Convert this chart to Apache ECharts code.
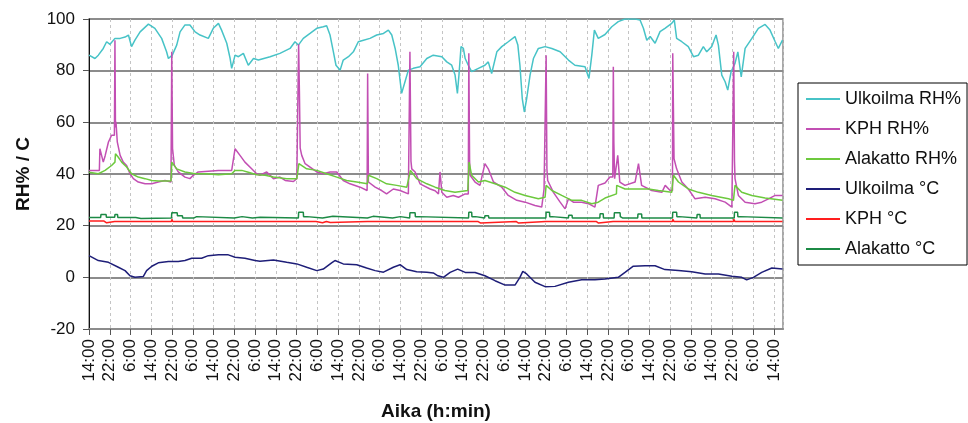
<!DOCTYPE html>
<html>
<head>
<meta charset="utf-8">
<script src="https://cdn.jsdelivr.net/npm/echarts@6/dist/echarts.min.js"></script>
<style>
html,body{margin:0;padding:0;background:#fff;}
#chart{width:968px;height:423px;}
</style>
</head>
<body>
<div id="chart"></div>
<script>
// Series names
const seriesNames = ['Ulkoilma RH%', 'KPH RH%', 'Alakatto RH%', 'Ulkoilma °C', 'KPH °C', 'Alakatto °C'];
// Tick labels (hour of day, repeating every 8 h starting 14:00)
const tickHours = [14, 22, 6];

// Ulkoilma RH% : time (h from start) and value
const ulkRhT = [0,2.3,3.6,5.5,6.8,8.1,10.0,12.0,13.9,15.2,16.4,17.7,19.7,22.9,25.4,28.0,29.9,30.6,32.1,33.8,35.1,37.0,38.9,40.9,42.8,46.0,47.9,49.9,51.1,53.1,54.4,55.0,56.3,57.6,59.5,61.4,63.4,65.3,
  69.8,73.6,77.5,79.4,80.7,82.6,85.2,87.8,90.3,91.6,92.9,94.2,95.2,96.8,98.0,100.0,101.9,103.8,105.8,108.3,110.9,113.5,115.4,116.7,118.0,119.2,120.5,121.8,123.1,125.0,127.6,130.2,132.7,
  136.0,137.9,139.8,141.1,142.0,142.6,143.4,144.3,145.0,146.2,147.5,150.1,152.6,153.9,155.2,157.2,159.1,161.6,164.2,165.3,166.1,167.0,167.8,168.7,170.0,171.3,173.2,175.8,178.4,181.6,184.8,187.3,191.2,192.7,193.8,194.8,196.3,198.9,
  201.5,204.0,206.6,210.5,212.4,213.7,215.0,216.3,218.2,220.1,222.0,224.6,225.6,226.5,228.5,231.0,233.0,234.9,236.8,238.1,240.0,241.7,242.6,243.9,245.2,246.2,247.5,249.0,250.1,251.4,252.9,255.5,258.0,260.6,262.5,264.5,265.7,267.3];
const ulkRhV = [86.0,84.7,86.0,88.6,91.2,90.2,92.5,92.5,93.0,93.8,89.3,91.8,95.0,98.0,96.4,92.5,87.3,84.7,86.0,89.9,95.0,97.7,97.7,95.0,93.8,92.5,96.4,98.3,95.7,90.6,84.7,80.9,86.0,85.4,86.7,82.1,84.7,84.1,
  85.4,86.7,88.6,91.2,89.9,92.5,94.4,96.4,97.0,97.4,93.8,87.3,82.1,80.2,84.1,85.4,87.3,91.2,91.8,92.5,93.8,94.4,95.7,93.8,88.6,82.1,71.2,75.7,80.2,80.9,81.5,84.7,86.0,
  85.4,83.4,82.1,78.3,71.2,78.3,89.3,88.6,84.7,82.1,79.6,80.9,82.1,83.4,78.9,87.3,89.3,91.2,93.2,89.9,82.1,69.2,64.0,69.2,78.3,84.7,88.6,89.3,88.6,87.3,84.1,82.1,81.5,77.0,86.0,95.7,92.5,94.0,
  97.0,99.0,100,100,99.6,96.4,91.8,93.2,90.6,95.1,96.4,98.3,99.6,92.5,91.2,89.3,85.4,86.0,89.3,87.3,89.3,93.8,89.9,78.3,75.7,72.5,79.6,82.8,87.3,77.6,88.6,92.5,96.4,97.9,95.7,91.2,88.6,91.8];

// KPH RH%
const kphRhT = [0,4.0,4.2,4.9,5.5,6.2,7.5,8.7,9.8,10.0,10.2,10.4,10.9,12.0,13.2,14.5,15.8,17.1,19.0,21.6,24.2,26.7,29.3,31.6,31.9,32.2,32.9,34.4,37.0,38.9,40.2,42.1,44.7,49.9,55.0,56.3,58.2,60.1,62.7,64.6,
  65.9,68.5,71.1,73.6,75.6,78.8,80.1,80.7,80.8,81.1,81.4,82.0,83.3,85.2,87.8,90.3,92.9,95.5,98.0,100.6,104.5,107.2,107.4,107.7,110.3,112.8,114.7,117.3,119.9,123.1,123.6,123.7,124.1,124.4,125.7,127.6,131.5,
  133.4,134.7,135.3,136.0,137.9,140.4,142.4,145.0,146.2,146.4,146.7,146.9,148.8,150.7,152.6,153.9,155.9,159.1,161.6,164.9,168.1,171.9,174.5,175.4,176.1,176.2,176.5,176.8,179.0,181.6,183.5,184.8,186.7,189.9,192.5,195.0,196.3,198.9,
  200.8,201.9,202.1,202.3,202.6,203.8,204.6,206.6,210.5,211.8,213.0,216.9,220.8,222.1,224.0,224.9,225.0,225.5,226.5,228.5,231.0,233.6,237.5,241.3,245.2,247.8,248.4,248.5,248.8,249.0,250.3,252.9,256.7,259.3,261.9,264.5,267.3];
const kphRhV = [41.4,41.4,49.8,47.0,44.6,47.0,52.4,55.0,55.0,91.8,58.0,60.2,52.4,47.2,44.6,43.3,40.1,38.2,36.9,36.2,36.2,36.9,37.5,36.9,87.3,49.8,43.3,40.8,38.8,38.2,39.5,40.8,41.0,41.4,41.4,49.8,47.2,44.6,42.0,40.1,
  39.5,40.8,38.2,38.8,37.5,37.1,38.2,38.2,90.2,72.0,50.0,47.2,44.0,42.7,40.8,40.1,40.8,40.8,37.5,36.2,34.9,33.6,78.9,36.9,34.9,33.6,32.3,34.2,33.6,32.3,32.3,87.3,45.0,42.0,40.8,36.2,34.2,
  33.5,32.3,40.8,32.9,31.0,31.7,31.0,32.3,32.3,86.7,45.0,39.5,36.9,35.6,44.0,42.0,36.9,34.9,31.7,29.8,29.1,27.8,27.2,34.2,34.2,86.0,42.0,37.5,32.9,29.1,26.5,30.4,29.1,29.1,28.5,27.2,35.6,36.5,
  38.8,38.8,81.5,52.4,38.2,47.2,36.9,35.6,36.9,44.0,35.6,33.6,32.9,35.6,33.6,33.6,86.7,45.9,42.0,36.9,34.2,30.4,31.0,30.4,29.1,27.2,27.2,87.3,45.0,38.2,31.7,29.1,28.5,29.1,30.4,31.7,31.7];

// Alakatto RH%
const alaRhT = [0,3.6,6.2,8.7,10.0,10.2,11.3,12.6,14.5,16.4,19.0,21.6,24.2,26.7,31.6,31.9,33.8,37.0,40.9,44.7,49.9,55.0,56.3,58.9,61.4,64.6,67.9,
  71.1,76.2,80.1,80.9,83.9,87.8,91.6,95.5,99.3,103.2,107.3,107.7,110.9,114.7,118.6,122.5,123.9,126.3,130.2,
  133.4,137.2,141.1,146.0,146.5,147.5,150.1,152.6,156.5,160.4,164.2,168.1,173.2,175.8,176.2,178.4,182.2,186.1,189.9,193.8,196.3,198.9,
  203.3,203.4,206.6,211.8,215.6,219.5,224.6,225.3,227.2,231.0,234.9,240.0,246.5,248.4,249.0,251.6,255.5,260.6,267.3];
const alaRhV = [40.7,40.1,41.4,43.3,44.6,47.8,46.5,44.6,42.7,40.1,38.8,38.2,37.5,37.3,37.3,44.6,42.0,40.8,40.1,40.1,39.7,40.1,41.4,41.4,40.7,39.7,39.5,
  38.8,38.2,38.2,44.0,42.0,41.4,40.1,38.8,37.5,36.9,36.2,39.5,38.2,36.2,35.6,34.9,41.4,38.2,36.2,
  34.9,33.6,32.9,33.6,44.6,39.5,36.9,37.5,36.2,34.9,32.9,31.7,30.4,31.0,35.6,33.6,31.7,29.8,29.8,28.5,29.1,30.7,
  32.3,35.6,34.2,34.2,34.2,33.6,32.9,39.5,36.9,34.2,32.9,31.7,30.4,29.8,35.6,32.9,31.7,30.7,29.8];

// Ulkoilma °C
const ulkCT = [0,3.6,7.5,11.3,13.9,15.8,17.7,20.9,22.2,24.2,26.7,30.6,34.4,37.0,39.6,43.4,46.0,49.9,53.7,56.3,60.1,64.0,
  65.9,71.1,76.2,80.1,83.9,87.8,90.3,93.5,94.8,98.0,103.2,107.0,110.3,113.5,117.3,119.9,122.5,126.3,130.2,132.7,
  134.5,136.6,139.2,142.1,145.0,148.8,152.6,156.5,160.4,164.2,166.1,167.2,168.7,171.9,175.8,179.6,184.8,189.9,195.0,198.9,
  204.0,206.6,209.8,214.3,218.2,222.0,227.2,232.3,237.5,242.6,247.8,251.6,253.5,256.1,259.3,263.2,267.3];
const ulkCV = [8.4,6.5,5.8,3.9,2.6,0.6,0.0,0.3,2.6,4.3,5.6,6.1,6.1,6.5,7.4,7.4,8.4,8.7,8.7,7.8,7.4,6.5,
  6.2,6.7,5.8,5.2,3.9,2.6,3.2,5.6,6.5,5.2,4.9,3.6,2.6,2.0,3.9,4.9,3.0,2.2,2.0,1.7,
  0.6,0.0,1.9,3.2,1.9,1.9,0.6,-1.3,-3.0,-3.0,0.0,2.3,1.3,-1.9,-3.6,-3.5,-1.9,-0.9,-0.9,-0.6,
  0.0,1.9,4.3,4.5,4.5,3.0,2.6,2.2,1.3,1.3,0.4,0.0,-1.0,0.0,1.9,3.6,3.2];

// KPH °C
const kphCT = [0,5.8,5.9,6.8,6.9,9.9,10.0,10.5,31.8,31.9,32.3,80.7,80.8,81.3,87.5,87.6,90.0,90.1,91.5,91.6,93.0,93.1,107.3,107.4,108.0,123.6,123.7,124.2,150.0,150.1,151.0,151.1,164.7,164.8,165.6,165.7,176.1,176.2,176.8,195.6,195.7,196.4,196.5,202.0,202.1,202.6,224.9,225.0,225.5,248.4,248.5,249.0,267.3];
const kphCV = [21.8,21.8,21.1,21.1,21.6,21.6,22.3,21.6,21.6,22.5,21.6,21.6,22.3,21.6,21.6,21.1,21.1,21.6,21.6,21.2,21.2,21.6,21.6,22.0,21.6,21.6,22.2,21.6,21.6,21.0,21.0,21.6,21.6,21.0,21.0,21.6,21.6,22.3,21.6,21.6,21.0,21.0,21.6,21.6,22.3,21.6,21.6,22.5,21.6,21.6,22.5,21.6,21.6];

// Alakatto °C
const alaCT = [0,4.5,4.6,6.6,6.7,9.9,10.0,11.0,11.1,18.0,18.1,20.0,20.1,31.8,31.9,34.0,34.1,36.0,36.1,40.5,40.6,41.5,41.6,56.0,56.1,59.0,59.1,63.0,63.1,66.0,66.1,
  80.7,80.8,82.6,82.7,84.0,84.1,90.0,90.1,94.0,94.1,107.3,107.4,109.5,109.6,117.0,117.1,120.0,120.1,123.6,123.7,125.7,125.8,127.0,127.1,
  146.3,146.4,147.5,147.6,149.0,149.1,152.5,152.6,154.0,154.1,176.1,176.2,177.5,177.6,178.5,178.6,184.8,184.9,186.2,186.3,196.9,197.0,198.2,198.3,
  202.4,202.5,204.7,204.8,205.5,205.6,211.5,211.6,213.0,213.1,224.9,225.0,226.5,226.6,227.5,227.6,234.3,234.4,235.5,235.6,248.7,248.8,250.0,250.1,251.0,251.1,267.3];
const alaCV = [23.2,23.2,24.3,24.3,23.3,23.3,24.3,24.3,23.2,23.2,22.8,22.8,23.0,23.0,25.0,25.0,23.8,23.8,23.0,23.0,23.5,23.5,23.0,23.0,23.5,23.5,23.0,23.0,23.3,23.3,23.0,
  23.0,25.2,25.2,23.5,23.5,23.0,23.0,23.6,23.6,23.0,23.0,23.6,23.6,23.0,23.0,23.5,23.5,23.0,23.0,25.0,25.0,23.5,23.5,23.0,
  23.0,25.2,25.2,23.5,23.5,23.0,23.0,23.8,23.8,23.0,23.0,25.2,25.2,23.5,23.5,23.0,23.0,24.0,24.0,23.0,23.0,24.6,24.6,23.0,
  23.0,25.0,25.0,23.5,23.5,23.0,23.0,24.5,24.5,23.0,23.0,25.2,25.2,23.5,23.5,23.0,23.0,24.3,24.3,23.0,23.0,25.2,25.2,23.5,23.5,23.0,23.0];

const colors = ['#47C3C7', '#C24FB3', '#6DC93E', '#1E1E78', '#FF1E1E', '#1C8A45'];
const seriesT = [ulkRhT, kphRhT, alaRhT, ulkCT, kphCT, alaCT];
const seriesV = [ulkRhV, kphRhV, alaRhV, ulkCV, kphCV, alaCV];

const FONT = '"Liberation Sans", Arial, sans-serif';
const chart = echarts.init(document.getElementById('chart'), null, {renderer: 'canvas'});
chart.setOption({
  animation: false,
  backgroundColor: '#fff',
  color: colors,
  grid: {left: 89, top: 19, right: 185, bottom: 94, containLabel: false, outerBoundsMode: 'none',
         show: true, borderColor: '#8c8c8c', borderWidth: 1.5, backgroundColor: 'transparent'},
  legend: {
    orient: 'vertical', left: 798, top: 83,
    padding: [7, 6, 7, 8],
    borderColor: '#000', borderWidth: 1,
    itemWidth: 34, itemHeight: 2, itemGap: 12, icon: 'rect',
    textStyle: {fontFamily: FONT, fontSize: 18, color: '#111', lineHeight: 18},
    data: seriesNames
  },
  xAxis: {
    type: 'value', min: 0, max: 267.5, interval: 8,
    name: 'Aika (h:min)', nameLocation: 'middle', nameGap: 73,
    nameTextStyle: {fontFamily: FONT, fontSize: 19, fontWeight: 'bold', color: '#111'},
    axisLine: {show: true, onZero: false, lineStyle: {color: '#8c8c8c', width: 2}},
    axisTick: {show: true, length: 6, lineStyle: {color: '#555'}},
    axisLabel: {
      rotate: 90, margin: 10, fontFamily: FONT, fontSize: 17, color: '#111',
      showMaxLabel: false,
      formatter: function (v) {
        if (Math.abs(v % 8) > 1e-6) return '';
        return tickHours[Math.round(v / 8) % 3] + ':00';
      }
    },
    splitLine: {show: true, lineStyle: {color: '#c4c4c4', type: [3, 3], width: 1}}
  },
  yAxis: {
    type: 'value', min: -20, max: 100, interval: 20,
    name: 'RH% / C', nameLocation: 'middle', nameGap: 56, nameRotate: 90,
    nameTextStyle: {fontFamily: FONT, fontSize: 19, fontWeight: 'bold', color: '#111'},
    axisLine: {show: true, lineStyle: {color: '#111', width: 1}},
    axisTick: {show: true, length: 6, lineStyle: {color: '#555'}},
    axisLabel: {margin: 14, fontFamily: FONT, fontSize: 17, color: '#111'},
    splitLine: {show: true, lineStyle: {color: '#8c8c8c', width: 2}}
  },
  series: seriesNames.map(function (name, k) {
    return {
      name: name, type: 'line', symbol: 'none', showSymbol: false,
      lineStyle: {width: 1.5, color: colors[k]},
      itemStyle: {color: colors[k]},
      data: seriesT[k].map(function (t, i) { return [t, seriesV[k][i]]; })
    };
  })
});
</script>
</body>
</html>
